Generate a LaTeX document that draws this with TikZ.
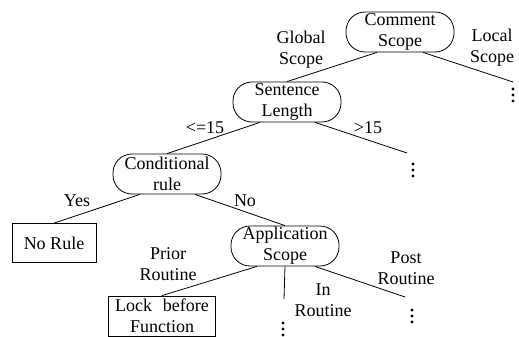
\documentclass[tikz,border=0pt]{standalone}
\usepackage{fontspec}
\setmainfont{Liberation Serif}
\usepackage{tikz}
\usepackage{xcolor}

\begin{document}
\begin{tikzpicture}[
        decision/.style = {draw, rectangle, rounded corners = 19pt, minimum width = 108pt, minimum height = 40pt, inner xsep = 2pt, inner ysep = 0pt, align = center, font = \fontsize{18}{21}\selectfont},
        leaf/.style = {draw, rectangle, minimum height = 39pt, inner xsep = 3pt, inner ysep = 0pt, align = center, font = \fontsize{18}{21}\selectfont},
        lbl/.style = {inner sep = 0pt, align = center, font = \fontsize{18}{21}\selectfont},
        more/.style = {inner sep = 0pt, minimum width = 4pt, minimum height = 16pt,
            path picture = {\foreach \k in {-6, 0, 6} \fill ([yshift = \k pt] path picture bounding box.center) circle (1.6pt);}},
        line width = 0.8pt
    ]
        \useasboundingbox (0pt, 0pt) rectangle (519pt, -337pt);
        % Nodes
        \node [decision] (comment) at (400pt, -32pt) {Comment\\Scope};
        \node [decision] (sentence) at (287pt, -102pt) {Sentence\\Length};
        \node [decision] (cond) at (167pt, -174pt) {Conditional\\rule};
        \node [decision] (app) at (285pt, -246pt) {Application\\Scope};
        \node [leaf, minimum width = 84pt] (norule) at (54pt, -243pt) {No Rule};
        \node [leaf, minimum width = 107pt, minimum height = 40pt] (lock) at (162pt, -316pt) {Lock\hspace{0.6em}before\\Function};
        % Open branches
        \coordinate (localend) at (513pt, -82pt);
        \coordinate (bigend) at (407pt, -153pt);
        \coordinate (inend) at (284pt, -299pt);
        \coordinate (postend) at (405pt, -297pt);
        \node [more] (localdots) at (513pt, -95pt) {};
        \node [more] (bigdots) at (413pt, -170pt) {};
        \node [more] (indots) at (283pt, -329pt) {};
        \node [more] (postdots) at (412pt, -316pt) {};
        % Draw the links
        \draw ([xshift = -23pt] comment.south) -- (sentence.north);
        \draw ([xshift = 23pt] comment.south) -- (localend);
        \draw ([xshift = -27pt] sentence.south) -- (cond.north);
        \draw ([xshift = 28pt] sentence.south) -- (bigend);
        \draw ([xshift = -27pt] cond.south) -- (norule.north);
        \draw ([xshift = 28pt] cond.south) -- (app.north);
        \draw ([xshift = -28pt] app.south) -- (lock.north);
        \draw (app.south) -- (inend);
        \draw ([xshift = 30pt] app.south) -- (postend);
        % Edge labels
        \node [lbl] (global) at (301pt, -50pt) {Global\\Scope};
        \node [lbl] (local) at (492pt, -48pt) {Local\\Scope};
        \node [lbl] (le15) at (205pt, -128pt) {<=15};
        \node [lbl] (gt15) at (368pt, -128pt) {>15};
        \node [lbl] (yes) at (77pt, -201pt) {Yes};
        \node [lbl] (no) at (245pt, -201pt) {No};
        \node [lbl] (prior) at (168pt, -264pt) {Prior\\Routine};
        \node [lbl] (inr) at (323pt, -300pt) {In\\Routine};
        \node [lbl] (post) at (406pt, -268pt) {Post\\Routine};
    \end{tikzpicture}
\end{document}
